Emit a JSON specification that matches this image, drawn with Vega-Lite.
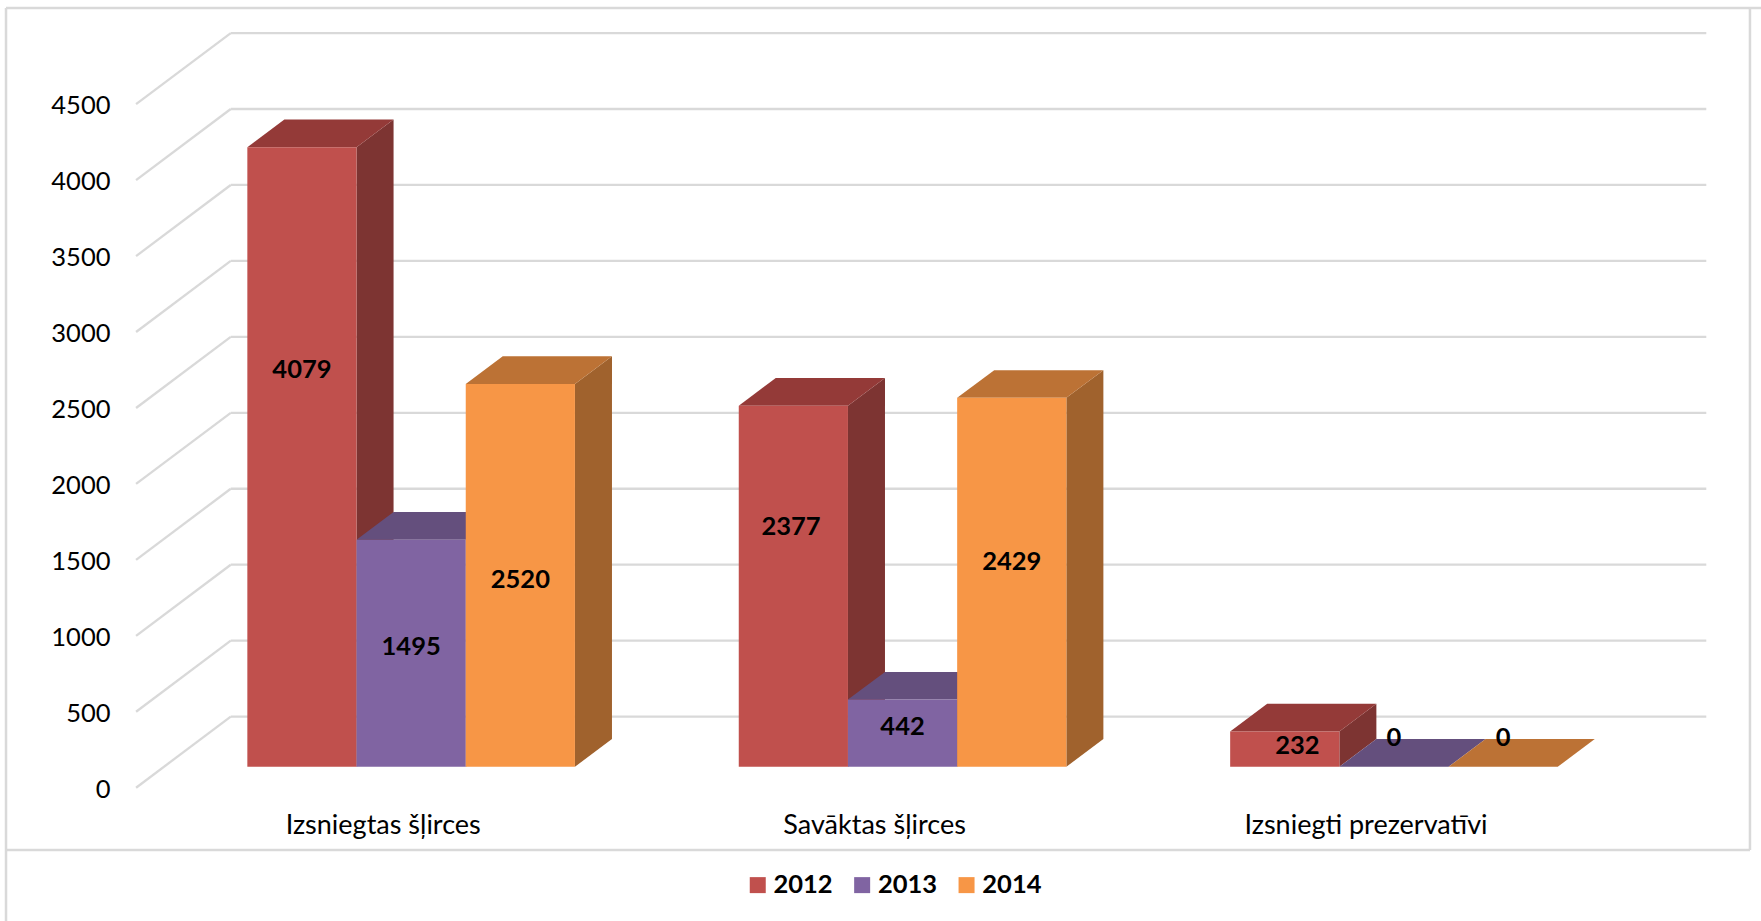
{
"$schema":"https://vega.github.io/schema/vega-lite/v6.json",
"width":1761,"height":921,"padding":0,"autosize":{"type":"none"},"background":"white",
"config":{"view":{"stroke":null},
"axisX":{"disable":true},
"axisY":{"orient":"left","offset":-110,"domain":false,"ticks":false,"grid":false,"title":null,"labelFont":"Lato","labelFontSize":25.5,"labelColor":"#000","labelPadding":0,"labelOffset":3,"format":"d"},
"style":{"lab":{"font":"Lato","fontSize":25.5,"fontWeight":"bold","color":"#000"},"cat":{"font":"Lato","fontSize":27,"color":"#000"}}},
"datasets":{
"bars":[
{"category":"Izsniegtas šļirces","year":2012,"value":4079},
{"category":"Izsniegtas šļirces","year":2013,"value":1495},
{"category":"Izsniegtas šļirces","year":2014,"value":2520},
{"category":"Savāktas šļirces","year":2012,"value":2377},
{"category":"Savāktas šļirces","year":2013,"value":442},
{"category":"Savāktas šļirces","year":2014,"value":2429},
{"category":"Izsniegti prezervatīvi","year":2012,"value":232},
{"category":"Izsniegti prezervatīvi","year":2013,"value":0},
{"category":"Izsniegti prezervatīvi","year":2014,"value":0}],
"ticks":[{"tick":0},{"tick":500},{"tick":1000},{"tick":1500},{"tick":2000},{"tick":2500},{"tick":3000},{"tick":3500},{"tick":4000},{"tick":4500}]
},
"layer":[
{"data":{"name":"ticks"},"transform":[{"calculate":"datum.tick+460","as":"back"},{"calculate":"datum.tick-8","as":"front"},{"calculate":"-1.019","as":"fx"},{"calculate":"-0.152","as":"bx"},{"calculate":"13.36","as":"ex"}],
 "layer":[
 {"mark":{"type":"rule","stroke":"#d9d9d9","strokeWidth":2.3},"encoding":{
  "x":{"field":"tick","type":"quantitative","scale":{"domain":[-2.265,13.861]}},
  "y":{"field":"tick","type":"quantitative","scale":{"domain":[-885.5,5177.7]},"axis":{"values":[0,500,1000,1500,2000,2500,3000,3500,4000,4500],"title":null,"format":"d"}},
  "opacity":{"value":0}}},
 {"mark":{"type":"rule","stroke":"#d9d9d9","strokeWidth":2.3},"encoding":{
  "x":{"field":"fx","type":"quantitative","scale":{"domain":[-2.265,13.861]}},"x2":{"field":"bx"},
  "y":{"field":"front","type":"quantitative","scale":{"domain":[-885.5,5177.7]}},"y2":{"field":"back"}}},
 {"mark":{"type":"rule","stroke":"#d9d9d9","strokeWidth":2.3},"encoding":{
  "x":{"field":"bx","type":"quantitative","scale":{"domain":[-2.265,13.861]}},"x2":{"field":"ex"},
  "y":{"field":"back","type":"quantitative","scale":{"domain":[-885.5,5177.7]}}}}
 ]},
{"data":{"values":[{}]},"layer":[
 {"mark":{"type":"rule","stroke":"#d9d9d9","strokeWidth":2.5},"encoding":{"x":{"datum":-2.21,"type":"quantitative","scale":{"domain":[-2.265,13.861]}},"x2":{"datum":13.861},"y":{"datum":5125,"type":"quantitative","scale":{"domain":[-885.5,5177.7]}}}},
 {"mark":{"type":"rule","stroke":"#d9d9d9","strokeWidth":2.5},"encoding":{"x":{"datum":-2.21,"type":"quantitative","scale":{"domain":[-2.265,13.861]}},"x2":{"datum":13.76},"y":{"datum":-418,"type":"quantitative","scale":{"domain":[-885.5,5177.7]}}}},
 {"mark":{"type":"rule","stroke":"#d9d9d9","strokeWidth":2.5},"encoding":{"x":{"datum":-2.21,"type":"quantitative","scale":{"domain":[-2.265,13.861]}},"y":{"datum":5125,"type":"quantitative","scale":{"domain":[-885.5,5177.7]}},"y2":{"datum":-885.5}}},
 {"mark":{"type":"rule","stroke":"#d9d9d9","strokeWidth":2.5},"encoding":{"x":{"datum":13.76,"type":"quantitative","scale":{"domain":[-2.265,13.861]}},"y":{"datum":5125,"type":"quantitative","scale":{"domain":[-885.5,5177.7]}},"y2":{"datum":-418}}}
]},
{"data":{"name":"bars"},
 "transform":[
  {"calculate":"indexof(['Izsniegtas šļirces','Savāktas šļirces','Izsniegti prezervatīvi'],datum.category)","as":"ci"},
  {"calculate":"datum.ci*4.5+datum.year-2012","as":"u0"},
  {"calculate":"datum.u0+1","as":"u1"},
  {"calculate":"datum.u0+0.5","as":"um"},
  {"calculate":"datum.value+130","as":"top"},
  {"calculate":"130","as":"base"},
  {"calculate":"datum.value/2+130","as":"mid"}
 ],
 "layer":[
 {"transform":[{"calculate":"[0,1]","as":"t"},{"flatten":["t"]},{"calculate":"datum.u1+datum.t*0.339","as":"sx"},{"calculate":"datum.top+datum.t*182","as":"sy"},{"calculate":"datum.base+datum.t*182","as":"sy2"}],
  "mark":{"type":"area","opacity":1},
  "encoding":{
   "x":{"field":"sx","type":"quantitative","scale":{"domain":[-2.265,13.861]}},
   "y":{"field":"sy","type":"quantitative","scale":{"domain":[-885.5,5177.7]}},"y2":{"field":"sy2"},
   "detail":{"field":"category"},
   "color":{"field":"year","type":"nominal","scale":{"domain":[2012,2013,2014],"range":["#7d3432","#534169","#a0622d"]},"legend":null}}},
 {"transform":[{"calculate":"[0,1]","as":"t"},{"flatten":["t"]},{"calculate":"datum.u0+datum.t*0.339","as":"tx"},{"calculate":"datum.u1+datum.t*0.339","as":"tx2"},{"calculate":"datum.top+datum.t*182","as":"ty"}],
  "mark":{"type":"area","orient":"horizontal","opacity":1},
  "encoding":{
   "x":{"field":"tx","type":"quantitative","scale":{"domain":[-2.265,13.861]}},"x2":{"field":"tx2"},
   "y":{"field":"ty","type":"quantitative","scale":{"domain":[-885.5,5177.7]}},
   "detail":{"field":"category"},
   "color":{"field":"year","type":"nominal","scale":{"domain":[2012,2013,2014],"range":["#943a38","#644f7d","#bc7235"]},"legend":null}}},
 {"mark":{"type":"rect"},
  "encoding":{
   "x":{"field":"u0","type":"quantitative","scale":{"domain":[-2.265,13.861]}},"x2":{"field":"u1"},
   "y":{"field":"top","type":"quantitative","scale":{"domain":[-885.5,5177.7]}},"y2":{"field":"base"},
   "color":{"field":"year","type":"nominal","scale":{"domain":[2012,2013,2014],"range":["#c0504d","#8064a2","#f79646"]},
    "legend":{"orient":"none","legendX":745,"legendY":872,"direction":"horizontal","columns":3,"title":null,"symbolType":"square","symbolSize":256,"symbolStrokeWidth":0,"labelFont":"Lato","labelFontSize":25.5,"labelFontWeight":"bold","labelColor":"#000","labelOffset":3,"columnPadding":16.4}}}},
 {"encoding":{
   "x":{"field":"um","type":"quantitative","scale":{"domain":[-2.265,13.861]}},
   "y":{"field":"mid","type":"quantitative","scale":{"domain":[-885.5,5177.7]}},
   "text":{"field":"value","type":"quantitative"}},
  "layer":[
   {"transform":[{"filter":"datum.value==4079"}],"mark":{"type":"text","style":"lab","yOffset":-86.5}},
   {"transform":[{"filter":"datum.value==1495"}],"mark":{"type":"text","style":"lab","yOffset":-6}},
   {"transform":[{"filter":"datum.value==2520"}],"mark":{"type":"text","style":"lab","yOffset":5}},
   {"transform":[{"filter":"datum.value==2377"}],"mark":{"type":"text","style":"lab","yOffset":-59.5,"xOffset":-2.3}},
   {"transform":[{"filter":"datum.value==442"}],"mark":{"type":"text","style":"lab","yOffset":-6.5}},
   {"transform":[{"filter":"datum.value==2429"}],"mark":{"type":"text","style":"lab","yOffset":-20}},
   {"transform":[{"filter":"datum.value==232"}],"mark":{"type":"text","style":"lab","yOffset":-3.5,"xOffset":12.6}},
   {"transform":[{"filter":"datum.value==0"}],"mark":{"type":"text","style":"lab","yOffset":-29}}
  ]},
 {"transform":[{"filter":"datum.year==2013"},{"calculate":"datum.um-0.256","as":"lx"},{"calculate":"-257","as":"ly"}],
  "mark":{"type":"text","style":"cat"},
  "encoding":{
   "x":{"field":"lx","type":"quantitative","scale":{"domain":[-2.265,13.861]}},
   "y":{"field":"ly","type":"quantitative","scale":{"domain":[-885.5,5177.7]}},
   "text":{"field":"category"}}}
 ],
 "resolve":{"scale":{"color":"independent"}}}
]
}
